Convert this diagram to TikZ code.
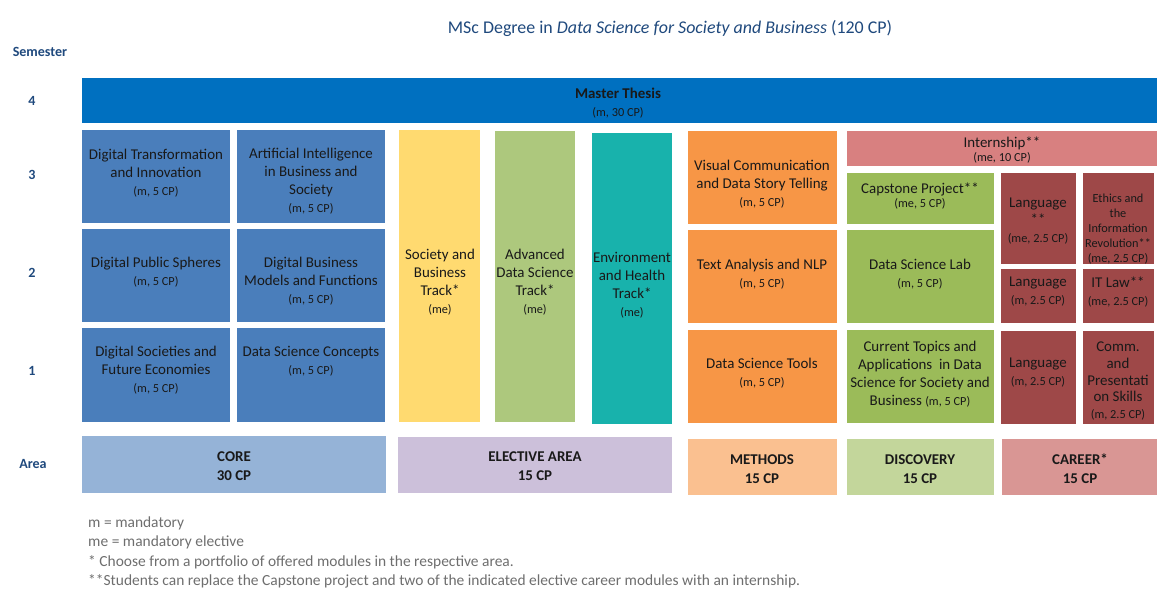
\documentclass[tikz,border=0pt]{standalone}
\usepackage{fontspec}
\setmainfont{Carlito}
\usetikzlibrary{positioning}
\definecolor{ThesisBlue}{RGB}{0,112,192}
\definecolor{CoreBlue}{RGB}{74,126,187}
\definecolor{TrackYellow}{RGB}{255,218,112}
\definecolor{TrackGreen}{RGB}{173,200,125}
\definecolor{TrackTeal}{RGB}{24,178,172}
\definecolor{MethOrange}{RGB}{247,150,70}
\definecolor{DiscGreen}{RGB}{155,187,89}
\definecolor{InternRose}{RGB}{216,128,128}
\definecolor{CareerRed}{RGB}{158,72,72}
\definecolor{AreaCore}{RGB}{149,179,215}
\definecolor{AreaElective}{RGB}{204,192,218}
\definecolor{AreaMethods}{RGB}{250,192,144}
\definecolor{AreaDiscovery}{RGB}{195,214,155}
\definecolor{AreaCareer}{RGB}{217,150,148}
\definecolor{LabelBlue}{RGB}{31,73,125}
\definecolor{NoteGray}{RGB}{110,110,110}
\newcommand{\modfont}{\fontsize{8.5}{10.2}\selectfont}
\newcommand{\cpfont}{\fontsize{7}{8.5}\selectfont}

\begin{document}
\begin{tikzpicture}[x=0.02cm, y=-0.02cm, every node/.style={font=\modfont, align=center, text=black!90},
        sem/.style={font=\fontsize{8}{9.6}\selectfont\bfseries, text=LabelBlue},
        area/.style={font=\fontsize{8.5}{10.8}\selectfont\bfseries},
        note/.style={anchor=base west, font=\fontsize{8.8}{10.5}\selectfont, text=NoteGray}]

        \useasboundingbox (0,0) rectangle (1176,600);

        % --- Title and row labels ---
        \node[anchor=base, font=\fontsize{10.2}{12}\selectfont, text=LabelBlue] (title) at (670,33)
            {MSc Degree in \textit{Data Science for Society and Business} (120 CP)};
        \node[sem] (semlabel) at (40,52) {Semester};
        \node[sem] (sem4) at (32,101) {4};
        \node[sem] (sem3) at (32,175) {3};
        \node[sem] (sem2) at (32,273) {2};
        \node[sem] (sem1) at (32,371) {1};
        \node[sem] (arealabel) at (33,464) {Area};

        % --- Semester 4 ---
        \fill[ThesisBlue] (82,78) rectangle (1157,123);
        \node (thesis) at (618,103) {\textbf{Master Thesis}\\{\cpfont (m, 30 CP)}};

        % --- CORE modules ---
        \fill[CoreBlue] (82,130) rectangle (230,223);
        \fill[CoreBlue] (237,130) rectangle (385,223);
        \fill[CoreBlue] (82,229) rectangle (230,322);
        \fill[CoreBlue] (237,229) rectangle (385,322);
        \fill[CoreBlue] (82,328) rectangle (230,422);
        \fill[CoreBlue] (237,328) rectangle (385,422);
        \node (dti) at (156,173) {Digital Transformation\\and Innovation\\{\cpfont (m, 5 CP)}};
        \node (aibs) at (311,181) {Artificial Intelligence\\in Business and\\Society\\{\cpfont (m, 5 CP)}};
        \node (dps) at (156,272) {Digital Public Spheres\\{\cpfont (m, 5 CP)}};
        \node (dbmf) at (311,281) {Digital Business\\Models and Functions\\{\cpfont (m, 5 CP)}};
        \node (dsfe) at (156,370) {Digital Societies and\\Future Economies\\{\cpfont (m, 5 CP)}};
        \node (dsc) at (311,361) {Data Science Concepts\\{\cpfont (m, 5 CP)}};

        % --- ELECTIVE tracks ---
        \fill[TrackYellow] (399,130) rectangle (480,422);
        \fill[TrackGreen] (495,131) rectangle (575,422);
        \fill[TrackTeal] (592,133) rectangle (672,424);
        \node (sbtrack) at (440,282) {Society and\\Business\\Track*\\{\cpfont (me)}};
        \node (adstrack) at (535,282) {Advanced\\Data Science\\Track*\\{\cpfont (me)}};
        \node (ehtrack) at (632,285) {Environment\\and Health\\Track*\\{\cpfont (me)}};

        % --- METHODS ---
        \fill[MethOrange] (688,131) rectangle (837,224);
        \fill[MethOrange] (688,230) rectangle (837,323);
        \fill[MethOrange] (688,330) rectangle (837,423);
        \node (vcds) at (762,184) {Visual Communication\\and Data Story Telling\\{\cpfont (m, 5 CP)}};
        \node (tanlp) at (762,274) {Text Analysis and NLP\\{\cpfont (m, 5 CP)}};
        \node (dstools) at (762,373) {Data Science Tools\\{\cpfont (m, 5 CP)}};

        % --- DISCOVERY ---
        \fill[InternRose] (847,131) rectangle (1157,166);
        \node (intern) at (1002,150) {Internship**\\[-2pt]{\cpfont (me, 10 CP)}};
        \fill[DiscGreen] (847,173) rectangle (994,224);
        \fill[DiscGreen] (847,230) rectangle (994,323);
        \fill[DiscGreen] (847,330) rectangle (994,423);
        \node (capstone) at (920,196) {Capstone Project**\\[-2pt]{\cpfont (me, 5 CP)}};
        \node (dslab) at (920,274) {Data Science Lab\\{\cpfont (m, 5 CP)}};
        \node (ctopics) at (920,374) {Current Topics and\\Applications~ in Data\\Science for Society and\\Business {\cpfont (m, 5 CP)}};

        % --- CAREER ---
        \fill[CareerRed] (1001,173) rectangle (1076,264);
        \fill[CareerRed] (1083,173) rectangle (1154,264);
        \fill[CareerRed] (1001,269) rectangle (1076,323);
        \fill[CareerRed] (1083,269) rectangle (1154,323);
        \fill[CareerRed] (1001,331) rectangle (1076,424);
        \fill[CareerRed] (1083,331) rectangle (1154,424);
        \node (lang3) at (1038,221) {Language\\**\\{\cpfont (me, 2.5 CP)}};
        \node[font=\cpfont] (ethics) at (1118,229) {Ethics and\\the\\Information\\Revolution**\\(me, 2.5 CP)};
        \node (lang2) at (1038,292) {Language\\{\cpfont (m, 2.5 CP)}};
        \node (itlaw) at (1118,292) {IT Law**\\{\cpfont (me, 2.5 CP)}};
        \node (lang1) at (1038,373) {Language\\{\cpfont (m, 2.5 CP)}};
        \node[font=\fontsize{8.5}{9.5}\selectfont] (commskills) at (1118,381) {Comm.\\and\\Presentati\\on Skills\\{\cpfont (m, 2.5 CP)}};

        % --- Area row ---
        \fill[AreaCore] (82,436) rectangle (386,493);
        \fill[AreaElective] (398,437) rectangle (672,493);
        \fill[AreaMethods] (688,439) rectangle (837,495);
        \fill[AreaDiscovery] (847,439) rectangle (994,495);
        \fill[AreaCareer] (1002,439) rectangle (1157,495);
        \node[area] (corearea) at (234,466) {CORE\\30 CP};
        \node[area] (electarea) at (535,466) {ELECTIVE AREA\\15 CP};
        \node[area] (metharea) at (762,469) {METHODS\\15 CP};
        \node[area] (discarea) at (920,469) {DISCOVERY\\15 CP};
        \node[area] (careerarea) at (1080,469) {CAREER*\\15 CP};

        % --- Notes ---
        \node[note] (note1) at (82,527) {m = mandatory};
        \node[note] (note2) at (82,546) {me = mandatory elective};
        \node[note] (note3) at (82,566) {* Choose from a portfolio of offered modules in the respective area.};
        \node[note] (note4) at (82,585) {**Students can replace the Capstone project and two of the indicated elective career modules with an internship.};

    \end{tikzpicture}
\end{document}
